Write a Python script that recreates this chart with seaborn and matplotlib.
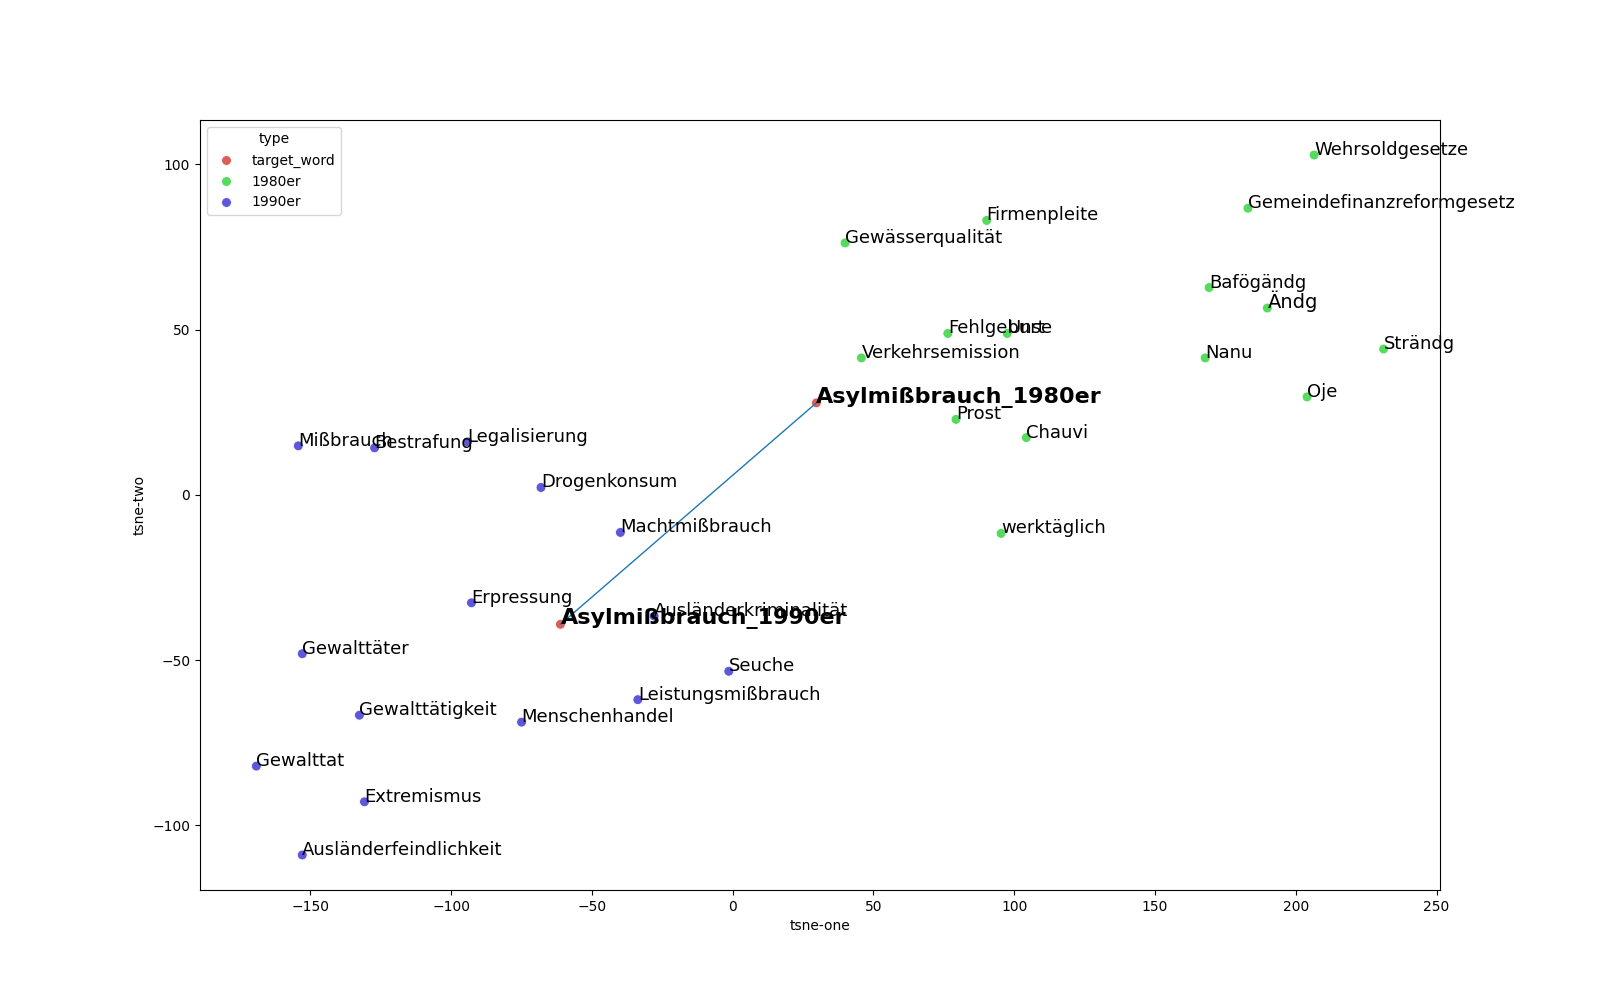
import pandas as pd
import matplotlib
matplotlib.use("Agg")
import matplotlib.pyplot as plt
import seaborn as sns

# t-SNE Koordinaten
target_words = ["Asylmißbrauch_1980er", "Asylmißbrauch_1990er"]
target_x = [29.7, -61.2]
target_y = [27.8, -39.2]

words_80 = ["Wehrsoldgesetze", "Gemeindefinanzreformgesetz", "Firmenpleite",
            "Gewässerqualität", "Bafögändg", "Ändg", "Fehlgeburt", "Unse",
            "Verkehrsemission", "Nanu", "Strändg", "Oje", "Prost", "Chauvi",
            "werktäglich"]
x_80 = [206.5, 183.0, 90.2, 39.9, 169.2, 189.9, 76.4, 97.5, 45.7, 167.8,
        231.2, 204.0, 79.3, 104.3, 95.3]
y_80 = [102.8, 86.7, 83.0, 76.2, 62.7, 56.5, 48.8, 48.8, 41.4, 41.4,
        44.1, 29.6, 22.8, 17.3, -11.7]

words_90 = ["Mißbrauch", "Bestrafung", "Legalisierung", "Drogenkonsum",
            "Machtmißbrauch", "Erpressung", "Ausländerkriminalität",
            "Gewalttäter", "Seuche", "Leistungsmißbrauch", "Gewalttätigkeit",
            "Menschenhandel", "Gewalttat", "Extremismus",
            "Ausländerfeindlichkeit"]
x_90 = [-154.3, -127.2, -94.2, -68.1, -39.9, -92.8, -27.9, -152.9, -1.4,
        -33.7, -132.6, -75.0, -169.2, -130.8, -152.9]
y_90 = [14.8, 14.2, 16.0, 2.2, -11.4, -32.7, -36.7, -48.1, -53.4, -62.0,
        -66.7, -68.8, -82.1, -92.9, -109.0]

df = pd.DataFrame({
    "word": target_words + words_80 + words_90,
    "tsne-one": target_x + x_80 + x_90,
    "tsne-two": target_y + y_80 + y_90,
    "type": ["target_word"] * len(target_words) + ["1980er"] * len(words_80)
            + ["1990er"] * len(words_90),
})

# %%
plt.figure(figsize=(16, 10))

sns.scatterplot(data=df,
                x="tsne-one",
                y="tsne-two",
                hue="type",
                palette=sns.color_palette("hls", 3),
                s=50,
                legend="full",
                alpha=1)

for _, row in df.iterrows():
    if row["type"] == "target_word":
        plt.text(row["tsne-one"], row["tsne-two"], row["word"],
                 fontsize=16, fontweight="bold")
    else:
        size = 14 if row["word"] == "Ändg" else 13
        plt.text(row["tsne-one"], row["tsne-two"], row["word"], fontsize=size)

plt.plot(target_x, target_y, lw=1)

plt.savefig("out.png", dpi=100)
